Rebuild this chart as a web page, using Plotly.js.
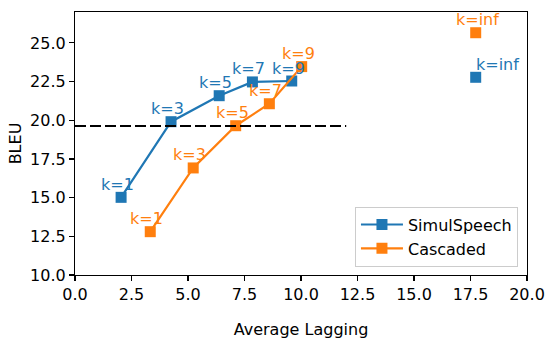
<!DOCTYPE html>
<html>
<head>
<meta charset="utf-8">
<script src="https://cdn.plot.ly/plotly-3.0.1.min.js"></script>
<style>html,body{margin:0;padding:0;background:#fff;}#chart{width:546px;height:339px;}</style>
</head>
<body>
<div id="chart"></div>
<script>
// ---- data ----
const simulX = [2.04, 4.25, 6.38, 7.85, 9.59];
const simulY = [15.02, 19.91, 21.59, 22.48, 22.54];
const simulInfX = [17.73];
const simulInfY = [22.78];
const simulLabels = ['k=1', 'k=3', 'k=5', 'k=7', 'k=9'];
const simulInfLabel = ['k=inf'];

const cascX = [3.33, 5.23, 7.11, 8.60, 10.03];
const cascY = [12.80, 16.92, 19.65, 21.07, 23.47];
const cascInfX = [17.73];
const cascInfY = [25.66];
const cascLabels = ['k=1', 'k=3', 'k=5', 'k=7', 'k=9'];
const cascInfLabel = ['k=inf'];

const baselineX = [0, 12];
const baselineY = [19.63, 19.63];

const xTickRange = [0, 20];
const yTickRange = [10, 27];

// ---- style ----
const BLUE = '#1f77b4', ORANGE = '#ff7f0e';
const FONT = 'DejaVu Sans, sans-serif';
const FS = 16;

const traces = [
  {x: simulX, y: simulY, mode: 'lines+markers', name: 'SimulSpeech',
   line: {color: BLUE, width: 2.2}, marker: {symbol: 'square', size: 11, color: BLUE}},
  {x: cascX, y: cascY, mode: 'lines+markers', name: 'Cascaded',
   line: {color: ORANGE, width: 2.2}, marker: {symbol: 'square', size: 11, color: ORANGE}},
  {x: simulInfX, y: simulInfY, mode: 'markers', showlegend: false,
   marker: {symbol: 'square', size: 11, color: BLUE}},
  {x: cascInfX, y: cascInfY, mode: 'markers', showlegend: false,
   marker: {symbol: 'square', size: 11, color: ORANGE}},
  {x: baselineX, y: baselineY, mode: 'lines', showlegend: false,
   line: {color: 'black', width: 2.2, dash: '11px,4px'}}
];

const annotations = [];
function addLabels(xs, ys, labels, color, xshift) {
  for (let i = 0; i < xs.length; i++) {
    annotations.push({x: xs[i], y: ys[i], text: labels[i], showarrow: false,
      xanchor: 'left', yanchor: 'middle', xshift: xshift, yshift: 13,
      font: {family: FONT, size: FS, color: color}});
  }
}
addLabels(simulX, simulY, simulLabels, BLUE, -22);
addLabels(cascX, cascY, cascLabels, ORANGE, -22);
addLabels(cascInfX, cascInfY, cascInfLabel, ORANGE, -22);
addLabels(simulInfX, simulInfY, simulInfLabel, BLUE, -2);

const axisCommon = {
  showline: true, mirror: true, linecolor: 'black', linewidth: 1.1,
  ticks: 'outside', ticklen: 5, tickwidth: 1.1, tickcolor: 'black',
  showgrid: false, zeroline: false, tickformat: '.1f', dtick: 2.5,
  tickfont: {family: FONT, size: FS, color: 'black'}
};

const layout = {
  width: 546, height: 339,
  margin: {l: 75, r: 19, t: 12, b: 64},
  paper_bgcolor: 'white', plot_bgcolor: 'white',
  font: {family: FONT, size: FS, color: 'black'},
  showlegend: true,
  legend: {x: 0.98, y: 0.032, xanchor: 'right', yanchor: 'bottom', itemwidth: 42,
    bgcolor: 'rgba(255,255,255,0.8)', bordercolor: '#cccccc', borderwidth: 1,
    font: {family: FONT, size: FS, color: 'black'}},
  xaxis: Object.assign({}, axisCommon, {range: xTickRange, tick0: 0,
    title: {text: 'Average Lagging', standoff: 21, font: {family: FONT, size: FS, color: 'black'}}}),
  yaxis: Object.assign({}, axisCommon, {range: yTickRange, tick0: 10,
    title: {text: 'BLEU', standoff: 4, font: {family: FONT, size: FS, color: 'black'}}}),
  annotations: annotations
};

Plotly.newPlot('chart', traces, layout, {staticPlot: true, displayModeBar: false});
</script>
</body>
</html>
